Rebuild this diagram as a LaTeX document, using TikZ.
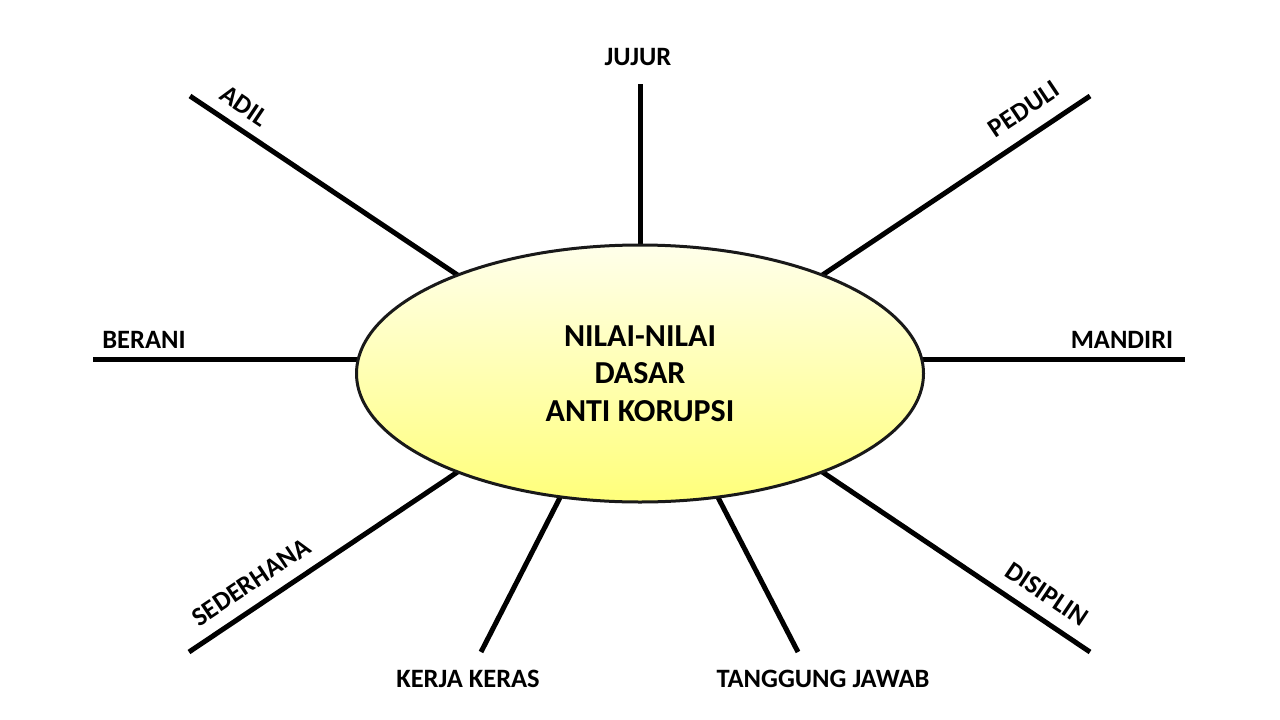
\documentclass[tikz,border=0pt]{standalone}
\usepackage{fontspec}
\setmainfont{Carlito}
\usetikzlibrary{shapes.geometric}
\begin{document}
\begin{tikzpicture}[x=1pt,y=-1pt,
  spoke/.style={line width=5pt,black},
  lbl/.style={font=\fontsize{26.5}{30}\selectfont\bfseries,inner sep=0pt},
  core/.style={ellipse,draw=black!90,line width=3pt,minimum width=567pt,minimum height=257pt,
    top color=yellow!8,bottom color=yellow!52!white,align=center,
    font=\fontsize{32}{37.5}\selectfont\bfseries}]
\useasboundingbox[fill=white] (0,0) rectangle (1280,720);
% spoke end points
\coordinate (jo) at (640,84);   \coordinate (ji) at (640,265);
\coordinate (po) at (1090,96);  \coordinate (pi) at (809,284);
\coordinate (mo) at (1185,359); \coordinate (mi) at (905,359);
\coordinate (do) at (1090,652); \coordinate (di) at (809,463);
\coordinate (to) at (798,652);  \coordinate (ti) at (709,480);
\coordinate (ko) at (481,652);  \coordinate (ki) at (569,480);
\coordinate (so) at (189,652);  \coordinate (si) at (471,463);
\coordinate (bo) at (93,359);   \coordinate (bi) at (375,359);
\coordinate (ao) at (190,96);   \coordinate (ai) at (471,284);
\foreach \a/\b in {jo/ji,po/pi,mo/mi,do/di,to/ti,ko/ki,so/si,bo/bi,ao/ai}
  \draw[spoke] (\a) -- (\b);
\node[core] (e) at (640,373.5) {NILAI-NILAI\\DASAR\\ANTI KORUPSI};
% labels
\node[lbl] (jujur) at (638,57) {JUJUR};
\node[lbl,rotate=33.8] (peduli) at (1024,109) {PEDULI};
\node[lbl] (mandiri) at (1122,340) {MANDIRI};
\node[lbl,rotate=-33.8] (disiplin) at (1047,594) {DISIPLIN};
\node[lbl] (tj) at (823,679) {TANGGUNG JAWAB};
\node[lbl] (kk) at (468,679) {KERJA KERAS};
\node[lbl,rotate=33.8] (sederhana) at (251,582) {SEDERHANA};
\node[lbl] (berani) at (144,340) {BERANI};
\node[lbl,rotate=-33.8] (adil) at (244,106) {ADIL};
\end{tikzpicture}
\end{document}
